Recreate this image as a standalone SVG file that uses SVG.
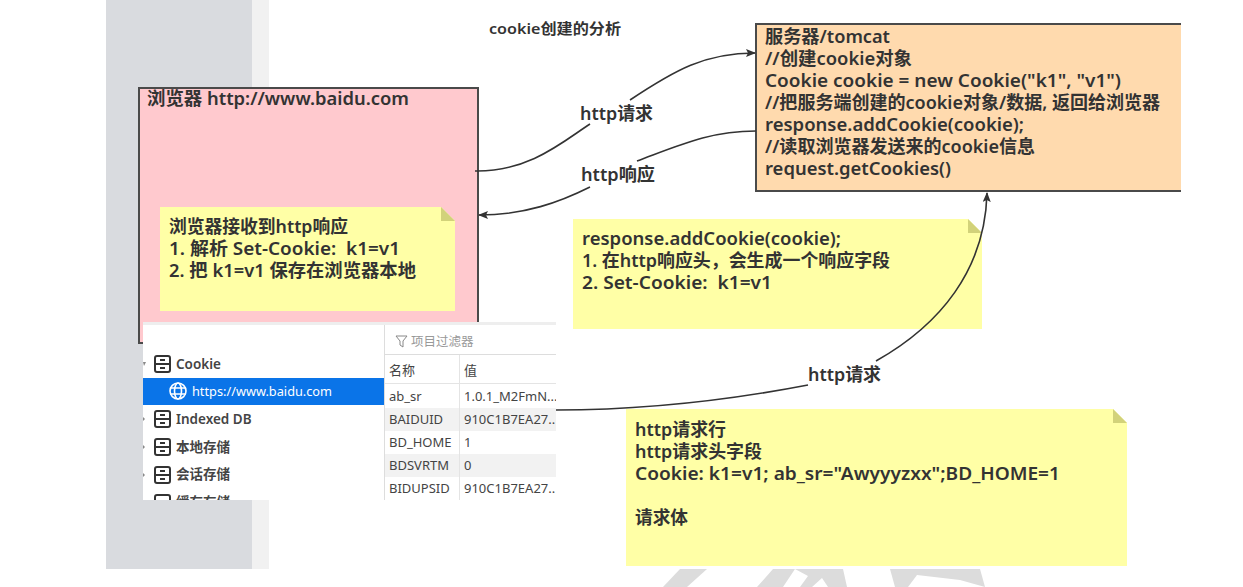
<svg xmlns="http://www.w3.org/2000/svg" width="1243" height="587" viewBox="0 0 1243 587">
<style>
text{font-family:"Noto Sans","Noto Sans CJK SC",sans-serif;fill:#333;white-space:pre}
.t{font-size:18px;font-weight:600}
.s{font-size:13px;fill:#444}
.b{font-size:13.5px;font-weight:600;fill:#444}
.box{stroke:#4a4a4a;stroke-width:2}
.note{fill:#ffffa6}
.fold{fill:#d2d27a}
.c{fill:none;stroke:#333;stroke-width:1.6}
.ic{fill:none;stroke:#333;stroke-width:2}
</style>
<defs>
<marker id="a" markerWidth="10" markerHeight="8" refX="9" refY="4" orient="auto" markerUnits="userSpaceOnUse"><path d="M0 0L10 4L0 8L2 4Z" fill="#333"/></marker>
<clipPath id="clip"><rect x="143" y="322" width="413" height="178"/></clipPath>
</defs>
<rect width="1243" height="587" fill="#fff"/>
<rect x="106" width="146" height="569" fill="#d9dbdf"/>
<rect x="252" width="17" height="569" fill="#f1f1f1"/>
<g fill="#dcdcdc"><path d="M680 569H707L687 587H663Z"/><path d="M773 569H843L847 587H828L822 578L812 587H800L808 576L795 569L783 587H757Z"/><path d="M890 569H980L985 587L960 580L917 575L908 587H895Z"/></g>
<text id="title" x="489" y="34" style="font-size:15px;font-weight:600" textLength="132" lengthAdjust="spacingAndGlyphs">cookie创建的分析</text>
<g id="browser">
<rect class="box" x="139" y="88" width="339" height="255" fill="#ffc9ce"/>
<text class="t" x="147" y="105" textLength="262" lengthAdjust="spacingAndGlyphs">浏览器 http://www.baidu.com</text>
</g>
<g id="note-browser">
<path class="note" d="M160 207H441L455 221V311H160Z"/><path class="fold" d="M441 207L455 221H441Z"/>
<text class="t" x="169" y="233" textLength="179" lengthAdjust="spacingAndGlyphs">浏览器接收到http响应</text>
<text class="t" x="169" y="255" textLength="231" lengthAdjust="spacingAndGlyphs">1. 解析 Set-Cookie:  k1=v1</text>
<text class="t" x="169" y="277" textLength="247" lengthAdjust="spacingAndGlyphs">2. 把 k1=v1 保存在浏览器本地</text>
</g>
<g id="server">
<path class="box" d="M1181 24H756V191H1181" fill="#ffdaae"/>
<text class="t" x="765" y="43" textLength="125" lengthAdjust="spacingAndGlyphs">服务器/tomcat</text>
<text class="t" x="765" y="65" textLength="147" lengthAdjust="spacingAndGlyphs">//创建cookie对象</text>
<text class="t" x="765" y="87" textLength="356" lengthAdjust="spacingAndGlyphs">Cookie cookie = new Cookie("k1", "v1")</text>
<text class="t" x="765" y="109" textLength="395" lengthAdjust="spacingAndGlyphs">//把服务端创建的cookie对象/数据, 返回给浏览器</text>
<text class="t" x="765" y="131" textLength="259" lengthAdjust="spacingAndGlyphs">response.addCookie(cookie);</text>
<text class="t" x="765" y="153" textLength="270" lengthAdjust="spacingAndGlyphs">//读取浏览器发送来的cookie信息</text>
<text class="t" x="765" y="175" textLength="186" lengthAdjust="spacingAndGlyphs">request.getCookies()</text>
</g>
<g id="note-response">
<path class="note" d="M573 219H968L982 233V329H573Z"/><path class="fold" d="M968 219L982 233H968Z"/>
<text class="t" x="582" y="245" textLength="259" lengthAdjust="spacingAndGlyphs">response.addCookie(cookie);</text>
<text class="t" x="582" y="267" textLength="308" lengthAdjust="spacingAndGlyphs">1. 在http响应头，会生成一个响应字段</text>
<text class="t" x="582" y="289" textLength="190" lengthAdjust="spacingAndGlyphs">2. Set-Cookie:  k1=v1</text>
</g>
<g id="note-request">
<path class="note" d="M626 409H1113L1127 423V566H626Z"/><path class="fold" d="M1113 409L1127 423H1113Z"/>
<text class="t" x="635" y="436" textLength="91" lengthAdjust="spacingAndGlyphs">http请求行</text>
<text class="t" x="635" y="458" textLength="127" lengthAdjust="spacingAndGlyphs">http请求头字段</text>
<text class="t" x="635" y="480" textLength="425" lengthAdjust="spacingAndGlyphs">Cookie: k1=v1; ab_sr="Awyyyzxx";BD_HOME=1</text>
<text class="t" x="635" y="524" textLength="53" lengthAdjust="spacingAndGlyphs">请求体</text>
</g>
<g id="devtools" clip-path="url(#clip)">
<rect x="143" y="322" width="413" height="178" fill="#fff"/>
<rect x="143" y="322" width="413" height="3" fill="#eee"/>
<rect x="384" y="325" width="1" height="175" fill="#ddd"/>
<rect x="385" y="354" width="171" height="1" fill="#ddd"/>
<rect x="385" y="383" width="171" height="1" fill="#e4e4e4"/>
<rect x="385" y="408" width="171" height="23" fill="#f2f2f2"/>
<rect x="385" y="454" width="171" height="23" fill="#f2f2f2"/>
<rect x="459" y="355" width="1" height="145" fill="#e4e4e4"/>
<rect x="143" y="378" width="241" height="27" fill="#0a74e8"/>
<g class="ic">
<rect x="155" y="356" width="15" height="16" rx="2"/><path d="M155 364H170M160 360H165M160 368H165"/>
<rect x="155" y="411" width="15" height="16" rx="2"/><path d="M155 419H170M160 415H165M160 423H165"/>
<rect x="155" y="439" width="15" height="16" rx="2"/><path d="M155 447H170M160 443H165M160 451H165"/>
<rect x="155" y="467" width="15" height="16" rx="2"/><path d="M155 475H170M160 471H165M160 479H165"/>
<rect x="155" y="495" width="15" height="16" rx="2"/>
</g>
<g fill="none" stroke="#fff" stroke-width="1.6"><circle cx="178" cy="391" r="8"/><ellipse cx="178" cy="391" rx="3.5" ry="8"/><path d="M170 388H186M170 394H186"/></g>
<path d="M143 362L146 362L144 366Z M143 417L145 419L143 421Z M143 445L145 447L143 449Z M143 473L145 475L143 477Z" fill="#888"/>
<text class="b" x="176" y="369">Cookie</text>
<text x="192" y="396" style="font-size:13px;fill:#fff" textLength="140" lengthAdjust="spacingAndGlyphs">https://www.baidu.com</text>
<text class="b" x="176" y="424">Indexed DB</text>
<text class="b" x="176" y="452">本地存储</text>
<text class="b" x="176" y="479">会话存储</text>
<text class="b" x="176" y="507">缓存存储</text>
<path d="M396 336H407L403 341V347L400 345V341Z" fill="none" stroke="#888"/>
<text x="411" y="346" style="font-size:12.5px;fill:#999">项目过滤器</text>
<text class="s" x="389" y="375">名称</text><text class="s" x="464" y="375">值</text>
<text class="s" x="389" y="401">ab_sr</text><text class="s" x="464" y="401">1.0.1_M2FmN...</text>
<text class="s" x="389" y="424">BAIDUID</text><text class="s" x="464" y="424">910C1B7EA27..</text>
<text class="s" x="389" y="447">BD_HOME</text><text class="s" x="464" y="447">1</text>
<text class="s" x="389" y="470">BDSVRTM</text><text class="s" x="464" y="470">0</text>
<text class="s" x="389" y="493">BIDUPSID</text><text class="s" x="464" y="493">910C1B7EA27..</text>
</g>
<g id="connectors">
<path class="c" d="M475 171C530 172 565 140 590 124"/>
<path class="c" d="M630 100C675 70 705 53 755 53" marker-end="url(#a)"/>
<path class="c" d="M756 131C710 131 680 145 637 161"/>
<path class="c" d="M590 187C560 202 525 215 479 215" marker-end="url(#a)"/>
<path class="c" d="M556 410C650 410 730 400 808 385"/>
<path class="c" d="M876 361C940 325 985 270 987 193" marker-end="url(#a)"/>
</g>
<g id="labels">
<text class="t" x="580" y="120" textLength="73" lengthAdjust="spacingAndGlyphs">http请求</text>
<text class="t" x="581" y="181" textLength="74" lengthAdjust="spacingAndGlyphs">http响应</text>
<text class="t" x="808" y="381" textLength="73" lengthAdjust="spacingAndGlyphs">http请求</text>
</g>
</svg>
